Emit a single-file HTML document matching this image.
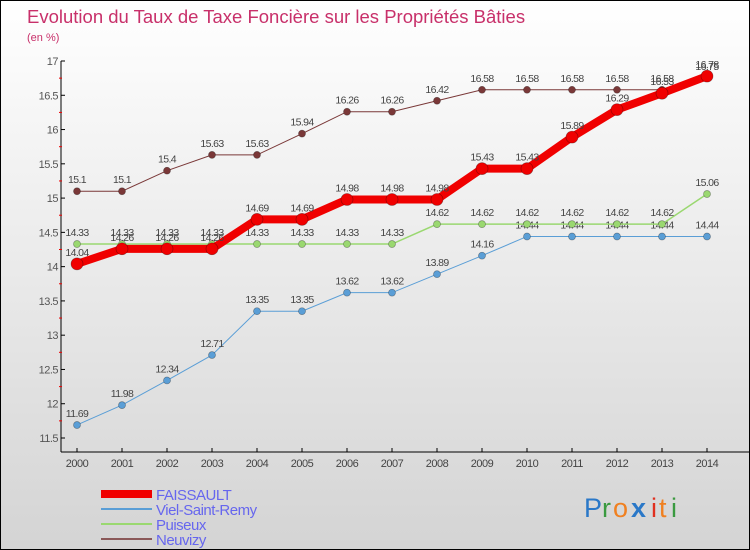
<!DOCTYPE html>
<html><head><meta charset="utf-8"><style>
body{margin:0}
#wrap{width:750px;height:550px;position:relative;overflow:hidden;box-sizing:border-box;border:1px solid #000;background:linear-gradient(#fff,#d4d4d4);font-family:"Liberation Sans",sans-serif}
</style></head><body>
<div id="wrap">
<svg id="chart" width="750" height="550" style="position:absolute;left:0;top:0">
<text x="26" y="22" font-size="18.5" fill="#c8306a">Evolution du Taux de Taxe Foncière sur les Propriétés Bâties</text>
<text x="26" y="40" font-size="11" fill="#c8306a">(en %)</text>
<g id="axes"></g><g id="series"></g><g id="legend"></g>
<g font-size="27" font-family="'Liberation Sans',sans-serif">
<text x="583" y="516" fill="#2a78c8">P</text><text x="601" y="516" fill="#3a9a40">r</text><text x="612" y="516" fill="#f08020">o</text><text x="630" y="516" fill="#2a78c8" font-weight="bold">x</text><text x="650" y="516" fill="#e03020">i</text><text x="658" y="516" fill="#f08020">t</text><text x="670" y="516" fill="#3a9a40">i</text>
</g>
</svg>
</div>
<script>
const years=[2000,2001,2002,2003,2004,2005,2006,2007,2008,2009,2010,2011,2012,2013,2014];
const faissault=[14.04,14.26,14.26,14.26,14.69,14.69,14.98,14.98,14.98,15.43,15.43,15.89,16.29,16.53,16.78];
const viel=[11.69,11.98,12.34,12.71,13.35,13.35,13.62,13.62,13.89,14.16,14.44,14.44,14.44,14.44,14.44];
const puiseux=[14.33,14.33,14.33,14.33,14.33,14.33,14.33,14.33,14.62,14.62,14.62,14.62,14.62,14.62,15.06];
const neuvizy=[15.1,15.1,15.4,15.63,15.63,15.94,16.26,16.26,16.42,16.58,16.58,16.58,16.58,16.58,16.75];
const yTicks=[11.5,12,12.5,13,13.5,14,14.5,15,15.5,16,16.5,17];
const NS="http://www.w3.org/2000/svg";
const X=i=>76+i*45;
const Y=v=>437-(v-11.5)*(377/5.5);
function mk(tag,attrs,parent,txt){const e=document.createElementNS(NS,tag);for(const k in attrs)e.setAttribute(k,attrs[k]);if(txt!==undefined)e.textContent=txt;parent.appendChild(e);return e;}
const axes=document.getElementById('axes');
let e=mk('line',{x1:60,y1:60,x2:60,y2:451,stroke:'#000','stroke-width':1},axes);


e=mk('line',{x1:60,y1:451,x2:750,y2:451,stroke:'#000','stroke-width':1},axes);


yTicks.forEach(t=>{const y=Y(t);
 mk('line',{x1:60,y1:y,x2:64,y2:y,stroke:'#000'},axes);
 if(t<17) mk('line',{x1:58,y1:Y(t+0.25),x2:61,y2:Y(t+0.25),stroke:'#e00'},axes);
 const l=mk('text',{x:57,y:y+4,'font-size':11,fill:'#555','text-anchor':'end','letter-spacing':'-0.5'},axes,String(t));
 
 
});
years.forEach((yr,i)=>{const x=X(i);
 mk('line',{x1:x,y1:447,x2:x,y2:451,stroke:'#000'},axes);
 const l=mk('text',{x:x,y:466,'font-size':11,fill:'#444','text-anchor':'middle','letter-spacing':'-0.5'},axes,String(yr));
 
 
});
const S=document.getElementById('series');
const defs=[
 {d:neuvizy,c:'#7a3838',w:1,r:3.5,n:'neuvizy'},
 {d:viel,c:'#5a9ed6',w:1,r:3.5,n:'viel-saint-remy'},
 {d:puiseux,c:'#9ad870',w:1.5,r:3.5,n:'puiseux'},
 {d:faissault,c:'#f00000',w:8,r:6,n:'faissault'}];
defs.forEach(s=>{
 const g=mk('g',{},S);
 
 
 const pl=mk('polyline',{points:s.d.map((v,i)=>X(i)+','+Y(v)).join(' '),fill:'none',stroke:s.c,'stroke-width':s.w},g);
 
 
 s.d.forEach((v,i)=>{
  const p=mk('circle',{cx:X(i),cy:Y(v),r:s.r,fill:s.c,stroke:'rgba(0,0,0,0.35)','stroke-width':0.7},g);
  
  
  const t=mk('text',{x:X(i),y:Y(v)-8,'font-size':10.5,fill:'#444','text-anchor':'middle','letter-spacing':'-0.6'},g,String(v));
  
  
 });
});
const L=document.getElementById('legend');
[['FAISSAULT','#f00000',8],['Viel-Saint-Remy','#5a9ed6',2],['Puiseux','#9ad870',2],['Neuvizy','#8a5858',2]].forEach((it,i)=>{
 const y=493+i*15;
 const g=mk('g',{},L);
 
 
 mk('line',{x1:100,y1:y,x2:151,y2:y,stroke:it[1],'stroke-width':it[2]},g);
 mk('text',{x:155,y:y+6,'font-size':15,fill:'#6666ee','letter-spacing':'-0.5'},g,it[0]);
});
</script>
</body></html>
